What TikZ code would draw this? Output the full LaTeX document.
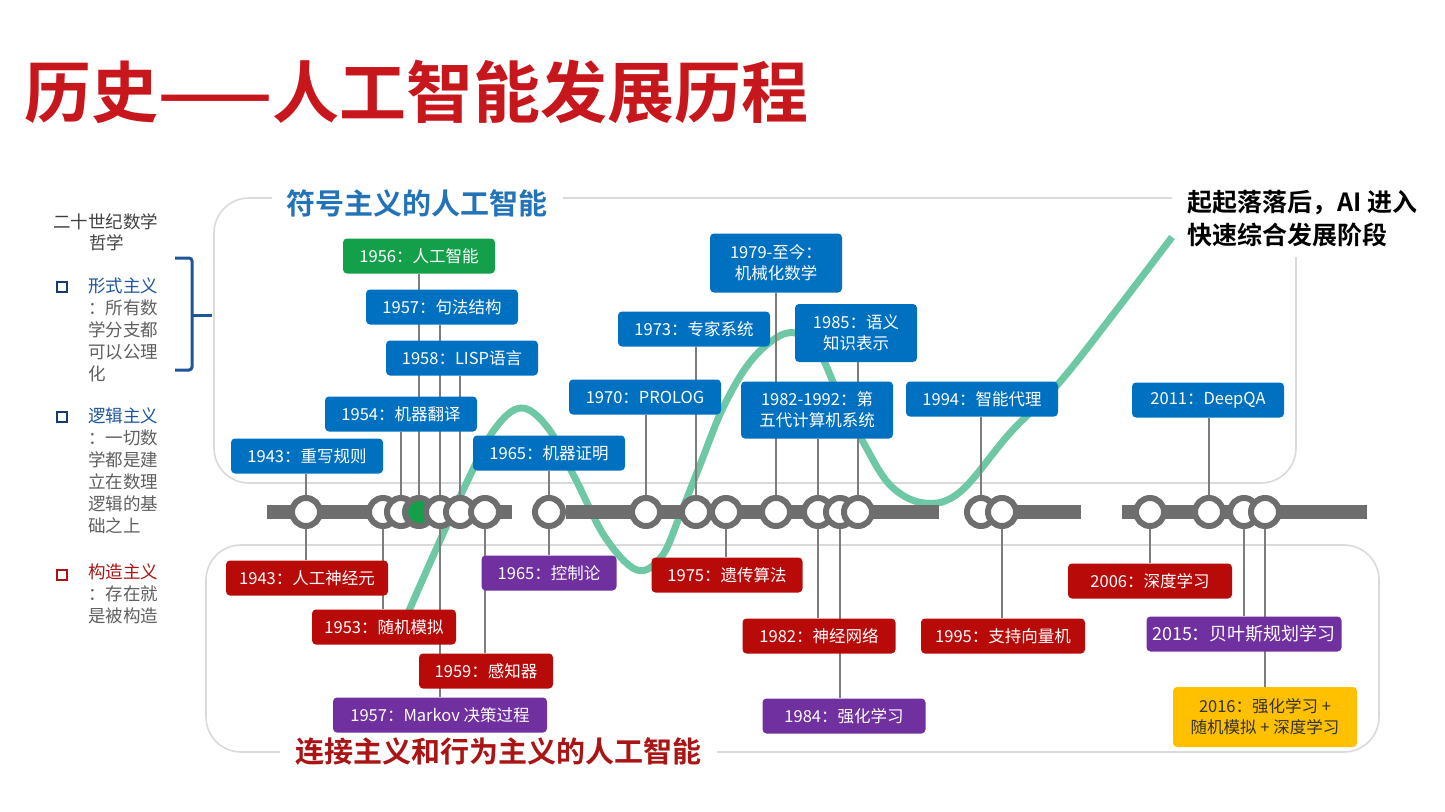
\documentclass[tikz,border=0pt]{standalone}
\usepackage{fontspec}
\setmainfont{Noto Sans CJK SC}[BoldFont={Noto Sans CJK SC Bold}]
\usetikzlibrary{positioning}
\definecolor{titlered}{RGB}{200,22,29}
\definecolor{symblue}{RGB}{35,115,185}
\definecolor{connred}{RGB}{170,20,20}
\definecolor{evtblue}{RGB}{0,112,192}
\definecolor{evtgreen}{RGB}{20,160,75}
\definecolor{evtred}{RGB}{185,10,10}
\definecolor{evtpurple}{RGB}{112,48,160}
\definecolor{evtyellow}{RGB}{255,192,0}
\definecolor{linegray}{RGB}{110,110,110}
\definecolor{stemgray}{RGB}{125,125,125}
\definecolor{wavegreen}{RGB}{110,200,165}
\definecolor{panelgray}{RGB}{218,218,218}
\definecolor{notegray}{RGB}{95,95,95}
\definecolor{bracketblue}{RGB}{30,85,155}
\pgfdeclarelayer{back}
\pgfdeclarelayer{mid}
\pgfsetlayers{back,mid,main}
\tikzset{
evt/.style={
    rounded corners=4pt,
    text=white,
    align=center,
    inner sep=2pt,
    minimum width=152pt,
    minimum height=35pt,
    font=\fontsize{16.5}{21}\selectfont
},
sym/.style={evt, fill=evtblue},
symkey/.style={evt, fill=evtgreen},
conn/.style={evt, fill=evtred},
behav/.style={evt, fill=evtpurple},
mix/.style={evt, fill=evtyellow, text=black!80},
tick/.style={
    circle,
    draw=linegray,
    line width=6pt,
    fill=white,
    minimum size=28pt,
    inner sep=0pt
},
stem/.style={draw=stemgray, line width=1.8pt},
bar/.style={draw=linegray, line width=14pt},
panel/.style={draw=panelgray, line width=1.6pt, rounded corners=35pt},
wave/.style={draw=wavegreen, line width=7pt},
note/.style={
    font=\fontsize{17.5}{22}\selectfont,
    text=notegray,
    align=left,
    inner sep=0pt,
    anchor=north west
},
bul/.style={rectangle, draw, line width=1.5pt, minimum size=10pt, inner sep=0pt},
brace/.style={draw=bracketblue, line width=3pt, rounded corners=3pt},
headline/.style={
    font=\fontsize{67}{72}\selectfont\bfseries,
    text=titlered,
    anchor=west,
    inner sep=0pt
},
section/.style={font=\fontsize{29}{32}\selectfont\bfseries, inner sep=0pt}
}
\begin{document}
\begin{tikzpicture}[x=1pt, y=-1pt]
\useasboundingbox (0,0) rectangle (1445,811);

% TITLE
\node[headline] (title) at (24,92) {历史——人工智能发展历程};

% LEFT: PHILOSOPHY OF MATHEMATICS
\node[note, text=black!75, anchor=west] (era) at (53,222) {二十世纪数学};
\node[note, text=black!75, anchor=west] (era2) at (89,243) {哲学};
\node[bul, draw=bracketblue!70!black] (bul1) at (62,287) {};
\node[note] (formal) at (88,278) {\textcolor{bracketblue}{形式主义}\\：所有数\\学分支都\\可以公理\\化};
\node[bul, draw=bracketblue!70!black] (bul2) at (62,417) {};
\node[note] (logic) at (88,408) {\textcolor{bracketblue}{逻辑主义}\\：一切数\\学都是建\\立在数理\\逻辑的基\\础之上};
\node[bul, draw=connred] (bul3) at (62,575) {};
\node[note] (construct) at (88,564) {\textcolor{connred}{构造主义}\\：存在就\\是被构造};
\draw[brace] (175,258) -- (192,258) -- (192,370) -- (175,370);
\draw[brace] (192,315) -- (212,315);

% SECTION TITLES
\node[section, text=symblue] (symtitle) at (417,203) {符号主义的人工智能};
\node[section, text=connred] (conntitle) at (498,752) {连接主义和行为主义的人工智能};
\node[font=\fontsize{25}{33}\selectfont\bfseries, align=left, anchor=north west, inner sep=0pt] (trend) at (1187,190) {起起落落后，AI 进入\\快速综合发展阶段};

% TOP: SYMBOLIC AI
\node[symkey] (b56) at (419,256) {1956：人工智能};
\node[sym] (b57) at (442,307) {1957：句法结构};
\node[sym] (b58) at (462,358) {1958：LISP语言};
\node[sym] (b54) at (401,414) {1954：机器翻译};
\node[sym] (b43) at (307,456) {1943：重写规则};
\node[sym] (b65) at (549,453) {1965：机器证明};
\node[sym] (b70) at (645,397) {1970：PROLOG};
\node[sym] (b73) at (694,329) {1973：专家系统};
\node[sym, minimum width=132pt, minimum height=59pt] (b79) at (776,263) {1979-至今：\\机械化数学};
\node[sym, minimum width=122pt, minimum height=58pt] (b85) at (856,333) {1985：语义\\知识表示};
\node[sym, minimum height=57pt] (b82) at (817,410) {1982-1992：第\\五代计算机系统};
\node[sym] (b94) at (982,399) {1994：智能代理};
\node[sym] (b11) at (1208,400) {2011：DeepQA};

% BOTTOM: CONNECTIONIST AND BEHAVIOURIST AI
\node[conn, minimum width=162pt] (c43) at (307,578) {1943：人工神经元};
\node[conn, minimum width=144pt] (c53) at (384,627) {1953：随机模拟};
\node[behav, minimum width=135pt] (c65) at (549,573) {1965：控制论};
\node[conn, minimum width=134pt] (c59) at (486,671) {1959：感知器};
\node[behav, minimum width=214pt] (c57) at (440,715) {1957：Markov 决策过程};
\node[conn, minimum width=151pt] (c75) at (727,575) {1975：遗传算法};
\node[conn, minimum width=153pt] (c82) at (819,636) {1982：神经网络};
\node[behav, minimum width=163pt] (c84) at (844,716) {1984：强化学习};
\node[conn, minimum width=164pt] (c95) at (1003,636) {1995：支持向量机};
\node[conn, minimum width=164pt] (c06) at (1150,581) {2006：深度学习};
\node[behav, minimum width=195pt, font=\fontsize{18}{21}\selectfont] (c15) at (1244,634) {2015：贝叶斯规划学习};
\node[mix, minimum width=184pt, minimum height=60pt] (c16) at (1265,717) {2016：强化学习 +\\随机模拟 + 深度学习};

% TIMELINE
\coordinate (bar1s) at (267,512);
\coordinate (bar1e) at (512,512);
\coordinate (bar2e) at (939,512);
\coordinate (bar3e) at (1081,512);
\coordinate (bar4s) at (1122,512);
\coordinate (bar4e) at (1367,512);
\node[tick] (t43) at (306,512) {};
\node[tick] (t53) at (383,512) {};
\node[tick] (t54) at (401,512) {};
\node[tick, fill=evtgreen] (t56) at (419,512) {};
\node[tick] (t57) at (440,512) {};
\node[tick] (t58) at (460,512) {};
\node[tick] (t59) at (485,512) {};
\node[tick] (t65) at (549,512) {};
\node[tick] (t70) at (646,512) {};
\node[tick] (t73) at (696,512) {};
\node[tick] (t75) at (726,512) {};
\node[tick] (t79) at (776,512) {};
\node[tick] (t82) at (818,512) {};
\node[tick] (t84) at (840,512) {};
\node[tick] (t85) at (858,512) {};
\node[tick] (t94) at (981,512) {};
\node[tick] (t95) at (1002,512) {};
\node[tick] (t06) at (1150,512) {};
\node[tick] (t11) at (1209,512) {};
\node[tick] (t15) at (1244,512) {};
\node[tick] (t16) at (1265,512) {};

% STEMS AND BARS
\begin{pgfonlayer}{mid}
\draw[bar] (bar1s) -- (bar1e);
\draw[bar] (t65) -- (bar2e);
\draw[bar] (t94) -- (bar3e);
\draw[bar] (bar4s) -- (bar4e);
\draw[stem] (t43) -- (t43 |- b43.south);
\draw[stem] (t54) -- (t54 |- b54.south);
\draw[stem] (t56) -- (t56 |- b56.south);
\draw[stem] (t57) -- (t57 |- b57.south);
\draw[stem] (t58) -- (t58 |- b58.south);
\draw[stem] (t65) -- (t65 |- b65.south);
\draw[stem] (t70) -- (t70 |- b70.south);
\draw[stem] (t73) -- (t73 |- b73.south);
\draw[stem] (t79) -- (t79 |- b79.south);
\draw[stem] (t82) -- (t82 |- b82.south);
\draw[stem] (t85) -- (t85 |- b85.south);
\draw[stem] (t94) -- (t94 |- b94.south);
\draw[stem] (t11) -- (t11 |- b11.south);
\draw[stem] (t43) -- (t43 |- c43.north);
\draw[stem] (t53) -- (t53 |- c53.north);
\draw[stem] (t57) -- (t57 |- c57.north);
\draw[stem] (t59) -- (t59 |- c59.north);
\draw[stem] (t65) -- (t65 |- c65.north);
\draw[stem] (t75) -- (t75 |- c75.north);
\draw[stem] (t82) -- (t82 |- c82.north);
\draw[stem] (t84) -- (t84 |- c84.north);
\draw[stem] (t95) -- (t95 |- c95.north);
\draw[stem] (t06) -- (t06 |- c06.north);
\draw[stem] (t15) -- (t15 |- c15.north);
\draw[stem] (t16) -- (t16 |- c16.north);
\end{pgfonlayer}

% PANELS AND TREND CURVE
\begin{pgfonlayer}{back}
\draw[panel] (272,198) -- (214,198) -- (214,483) -- (1296,483) -- (1296,257);
\draw[panel] (563,198) -- (1172,198);
\draw[panel] (280,752) -- (206,752) -- (206,545) -- (1379,545) -- (1379,752) -- (717,752);
\draw[wave] plot[smooth, tension=0.6] coordinates {
    (404,622) (438,545) (467,482) (494,430) (521,408) (548,428) (575,478)
    (605,537) (637,570) (662,556) (680,515) (700,465) (722,410) (747,366)
    (773,340) (795,333) (818,350) (840,398) (862,440) (890,485) (924,503)
    (960,492) (1010,433) (1059,383) (1115,312) (1172,237)};
\end{pgfonlayer}

\end{tikzpicture}
\end{document}
